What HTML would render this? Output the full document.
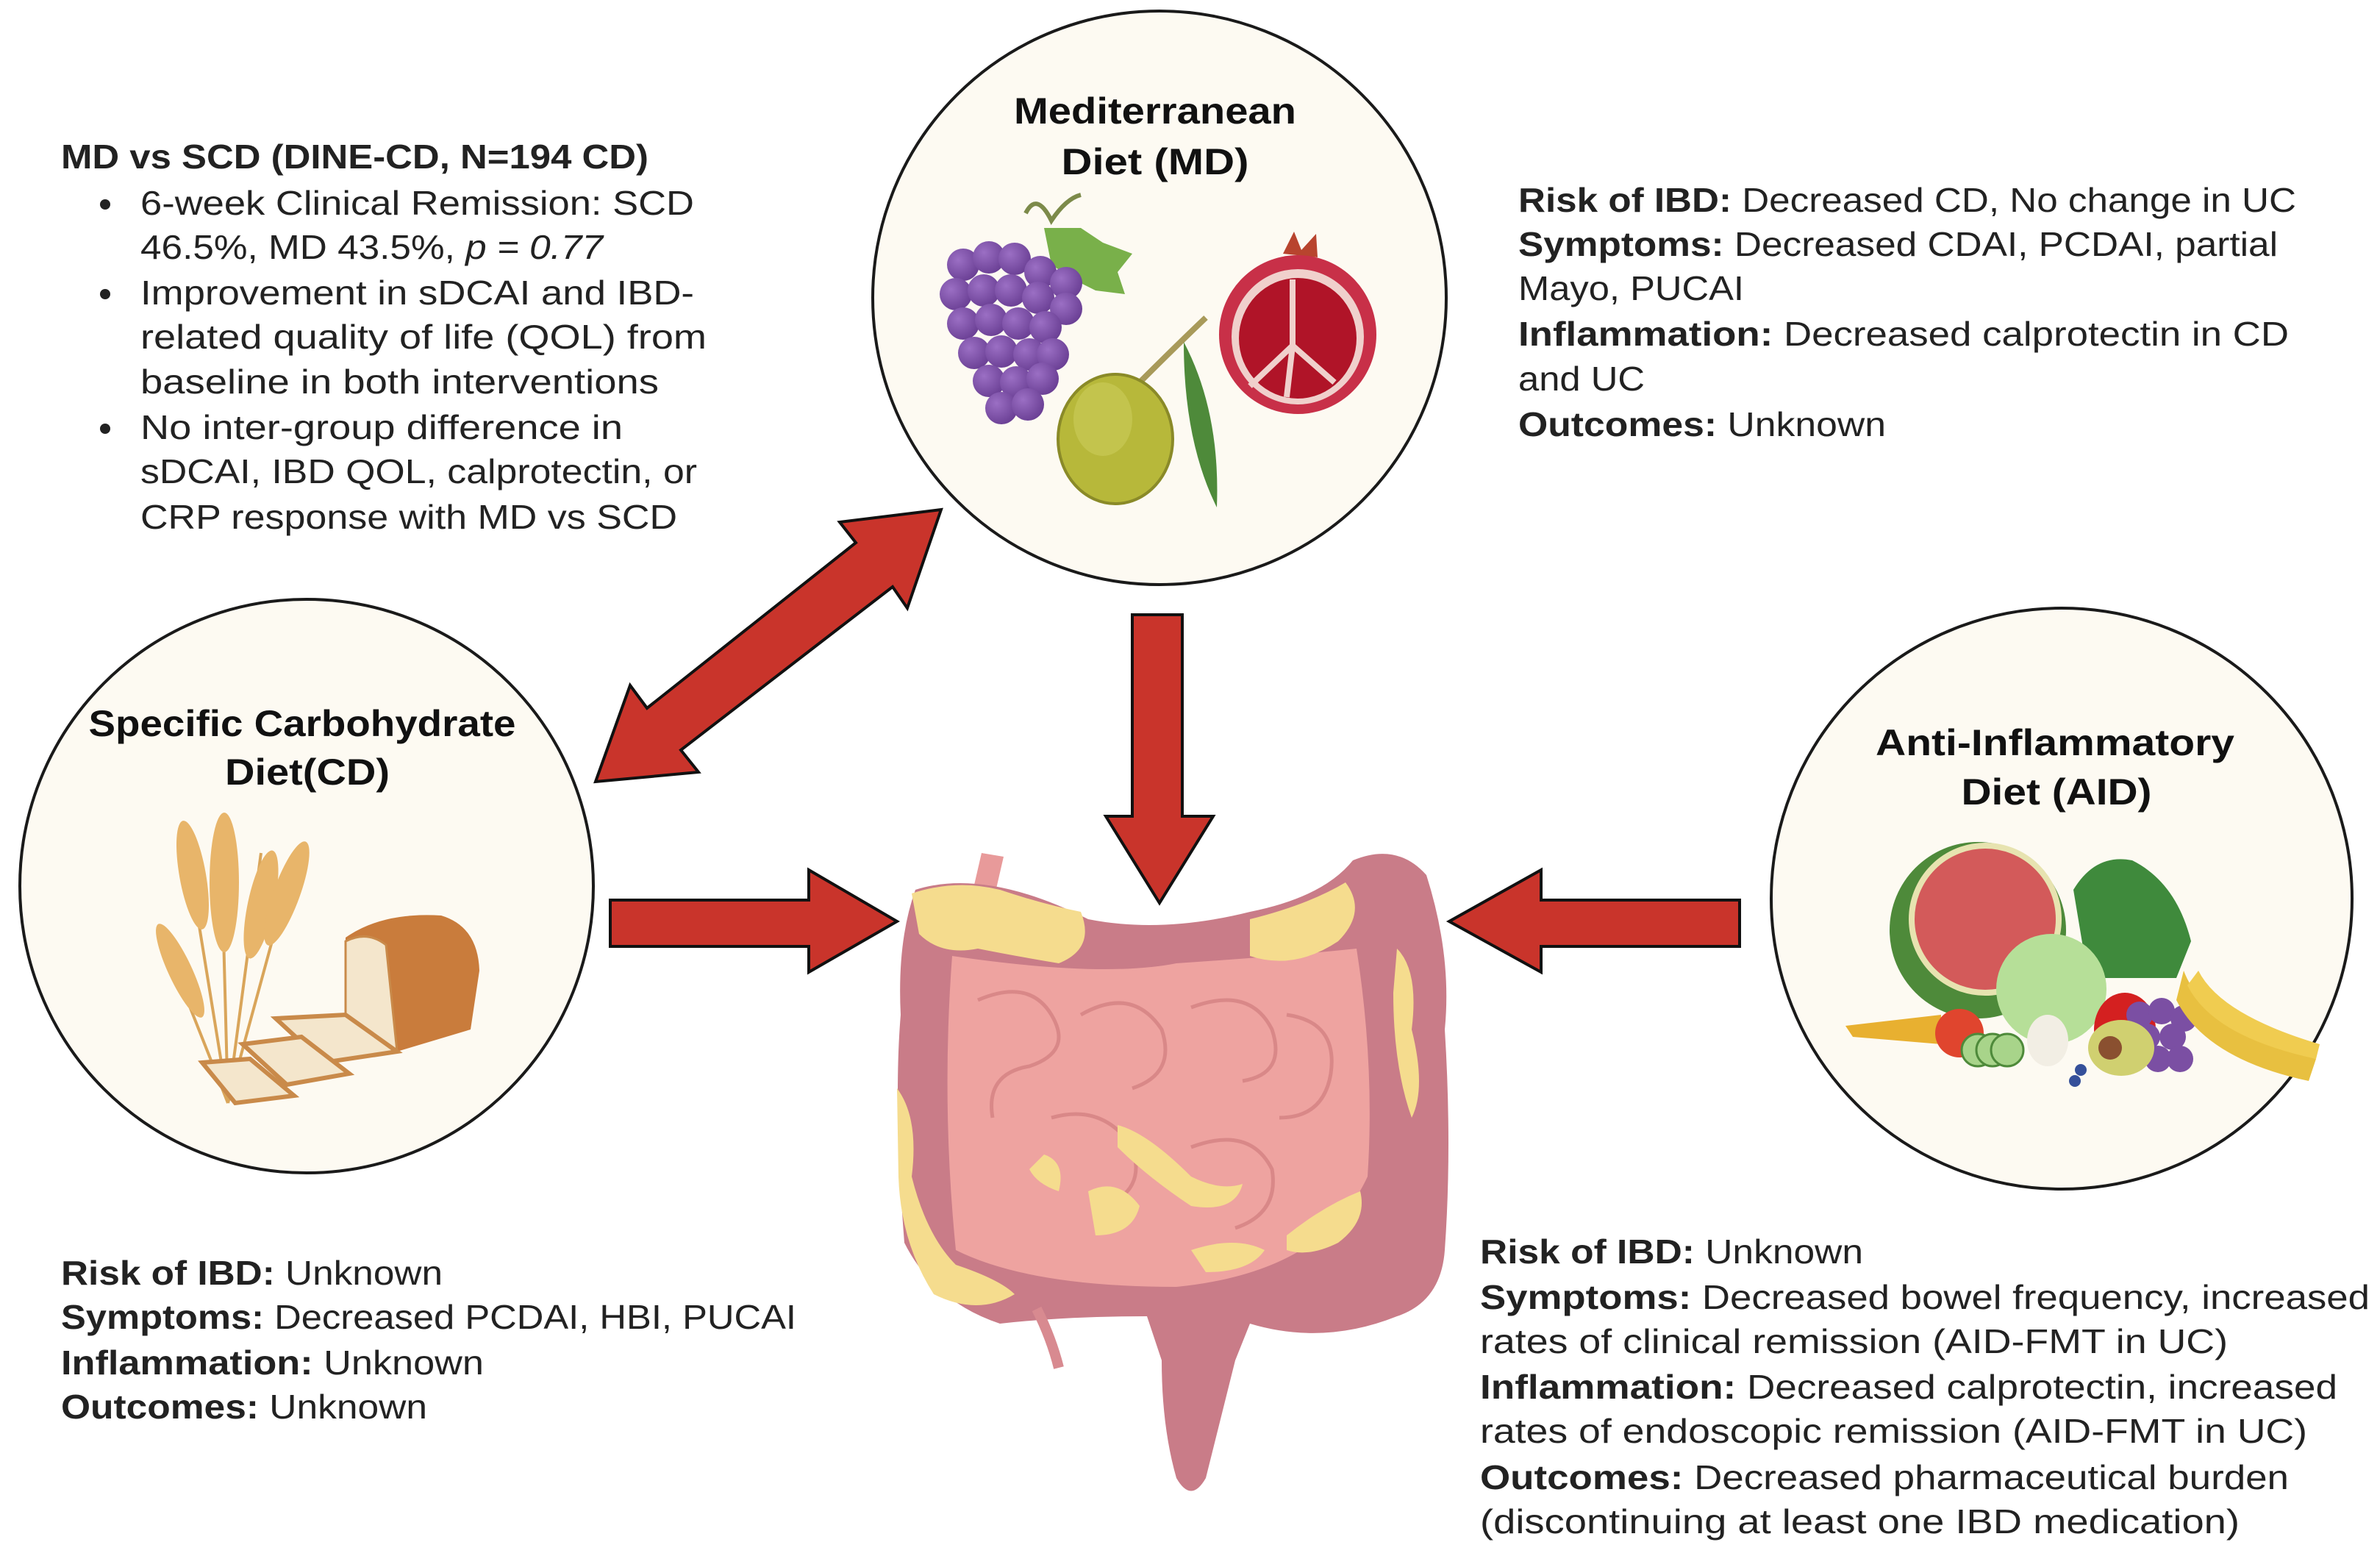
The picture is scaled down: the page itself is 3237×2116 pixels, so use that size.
<!DOCTYPE html>
<html><head><meta charset="utf-8"><style>
html,body{margin:0;padding:0;background:#fff;}
svg{display:block;}
text{font-family:"Liberation Sans",sans-serif;fill:#222;}
.t{font-size:46px;}
.b{font-weight:bold;}
.h{font-size:50px;font-weight:bold;fill:#111;}
</style></head><body>
<svg width="3237" height="2116" viewBox="0 0 3237 2116" xmlns="http://www.w3.org/2000/svg">
<defs>
<radialGradient id="gr" cx="0.35" cy="0.35" r="0.7"><stop offset="0" stop-color="#9b6fc4"/><stop offset="1" stop-color="#6a3f94"/></radialGradient>
</defs>
<!-- circles -->
<circle cx="1577" cy="405" r="390" fill="#fdfaf2" stroke="#1a1a1a" stroke-width="4"/>
<circle cx="417" cy="1205" r="390" fill="#fdfaf2" stroke="#1a1a1a" stroke-width="4"/>
<circle cx="2804" cy="1222" r="395" fill="#fdfaf2" stroke="#1a1a1a" stroke-width="4"/>

<!-- MD foods -->
<path d="M1395 290 Q1410 260 1430 300 Q1450 270 1470 265" fill="none" stroke="#7c8a4a" stroke-width="6"/>
<path d="M1420 310 L1470 310 L1500 330 L1540 345 L1520 370 L1530 400 L1490 395 L1460 380 L1430 360Z" fill="#79b04a"/>
<g fill="url(#gr)">
<circle cx="1310" cy="360" r="22"/><circle cx="1345" cy="350" r="22"/><circle cx="1380" cy="352" r="22"/><circle cx="1415" cy="370" r="22"/><circle cx="1450" cy="385" r="22"/>
<circle cx="1300" cy="400" r="22"/><circle cx="1338" cy="395" r="22"/><circle cx="1375" cy="395" r="22"/><circle cx="1412" cy="405" r="22"/><circle cx="1450" cy="420" r="22"/>
<circle cx="1310" cy="440" r="22"/><circle cx="1348" cy="435" r="22"/><circle cx="1385" cy="440" r="22"/><circle cx="1422" cy="445" r="22"/>
<circle cx="1325" cy="480" r="22"/><circle cx="1362" cy="478" r="22"/><circle cx="1400" cy="482" r="22"/><circle cx="1432" cy="482" r="22"/>
<circle cx="1345" cy="518" r="22"/><circle cx="1382" cy="520" r="22"/><circle cx="1418" cy="515" r="22"/>
<circle cx="1362" cy="555" r="22"/><circle cx="1398" cy="550" r="22"/>
</g>
<path d="M1640 432 Q1600 470 1545 525" fill="none" stroke="#a89a5a" stroke-width="8"/>
<ellipse cx="1517" cy="597" rx="78" ry="88" fill="#b7b83a" stroke="#8a8a28" stroke-width="4"/>
<ellipse cx="1500" cy="570" rx="40" ry="50" fill="#c8c955" opacity="0.7"/>
<path d="M1610 465 Q1660 560 1655 690 Q1610 600 1610 465Z" fill="#4e8a3a"/>
<path d="M1745 345 L1760 315 L1770 340 L1790 318 L1792 350Z" fill="#b8442e"/>
<ellipse cx="1765" cy="455" rx="107" ry="108" fill="#c83048"/>
<ellipse cx="1765" cy="458" rx="90" ry="92" fill="#f0d0cc"/>
<ellipse cx="1765" cy="460" rx="80" ry="82" fill="#b01428"/>
<path d="M1758 380 L1758 470 L1700 525 M1758 470 L1750 540 M1758 470 L1815 520" stroke="#f0d0cc" stroke-width="8" fill="none"/>

<!-- SCD foods -->
<g stroke="#d9a55a" stroke-width="4" fill="none">
<path d="M310 1500 L250 1130"/><path d="M310 1500 L300 1120"/><path d="M310 1500 L355 1160"/><path d="M310 1500 L400 1170"/><path d="M310 1500 L215 1260"/>
</g>
<g fill="#e8b56a">
<ellipse cx="262" cy="1190" rx="18" ry="75" transform="rotate(-10 262 1190)"/>
<ellipse cx="305" cy="1200" rx="20" ry="95" transform="rotate(0 305 1200)"/>
<ellipse cx="355" cy="1230" rx="18" ry="75" transform="rotate(12 355 1230)"/>
<ellipse cx="390" cy="1215" rx="18" ry="75" transform="rotate(20 390 1215)"/>
<ellipse cx="245" cy="1320" rx="16" ry="70" transform="rotate(-25 245 1320)"/>
</g>
<path d="M470 1275 Q520 1240 600 1245 Q650 1260 652 1320 L640 1400 L540 1430 L470 1400Z" fill="#c97c3c"/>
<path d="M470 1280 Q500 1265 525 1285 L540 1430 L470 1400Z" fill="#f4e6cc" stroke="#c98a4a" stroke-width="3"/>
<path d="M375 1385 L470 1380 L540 1430 L440 1445Z" fill="#f4e6cc" stroke="#c98a4a" stroke-width="6"/>
<path d="M330 1420 L410 1410 L475 1460 L390 1475Z" fill="#f4e6cc" stroke="#c98a4a" stroke-width="6"/>
<path d="M275 1445 L340 1440 L400 1490 L320 1500Z" fill="#f4e6cc" stroke="#c98a4a" stroke-width="6"/>

<!-- AID foods -->
<ellipse cx="2690" cy="1265" rx="120" ry="120" fill="#4e8a3a"/>
<ellipse cx="2700" cy="1250" rx="100" ry="100" fill="#d35a5a" stroke="#e7e3b0" stroke-width="8"/>
<path d="M2820 1210 Q2850 1160 2900 1170 Q2960 1200 2980 1280 L2960 1330 L2840 1330Z" fill="#3f8a3c"/>
<ellipse cx="2790" cy="1345" rx="75" ry="75" fill="#b6df98"/>
<ellipse cx="2890" cy="1400" rx="42" ry="50" fill="#d42020"/>
<g fill="#7b4fa3"><circle cx="2910" cy="1380" r="18"/><circle cx="2940" cy="1375" r="18"/><circle cx="2970" cy="1385" r="18"/><circle cx="2920" cy="1410" r="18"/><circle cx="2955" cy="1410" r="18"/><circle cx="2935" cy="1440" r="18"/><circle cx="2965" cy="1440" r="18"/></g>
<path d="M2970 1320 Q3000 1400 3150 1440 L3140 1470 Q3000 1440 2960 1360Z" fill="#e8c040"/>
<path d="M2990 1320 Q3020 1380 3155 1420 L3150 1440 Q3010 1410 2975 1340Z" fill="#f0cc50"/>
<path d="M2510 1395 L2640 1380 L2640 1420 L2520 1410Z" fill="#e8b030"/>
<circle cx="2665" cy="1405" r="33" fill="#e0452e"/>
<g fill="#a8d48a" stroke="#4e8a3a" stroke-width="3"><circle cx="2690" cy="1428" r="22"/><circle cx="2710" cy="1428" r="22"/><circle cx="2730" cy="1428" r="22"/></g>
<ellipse cx="2785" cy="1415" rx="28" ry="35" fill="#f2eee4"/>
<ellipse cx="2885" cy="1425" rx="45" ry="38" fill="#d0d070"/><circle cx="2870" cy="1425" r="16" fill="#8a5030"/>
<circle cx="2830" cy="1455" r="8" fill="#35509a"/><circle cx="2822" cy="1470" r="8" fill="#35509a"/>

<!-- intestine -->
<g>
<path d="M1335 1160 L1365 1165 L1350 1230 L1320 1225Z" fill="#e89a9a"/>
<path d="M1245 1210 Q1340 1180 1480 1250 Q1580 1270 1700 1240 Q1800 1220 1840 1170 Q1900 1145 1940 1190 Q1975 1300 1965 1400 Q1975 1560 1965 1700 Q1960 1770 1900 1790 Q1800 1830 1700 1800 L1680 1850 Q1660 1930 1640 2010 Q1620 2045 1600 2010 Q1580 1940 1580 1850 L1560 1790 Q1450 1790 1360 1800 Q1270 1770 1230 1690 Q1215 1500 1225 1380 Q1220 1280 1245 1210Z" fill="#c97c88"/>
<path d="M1295 1300 Q1500 1330 1600 1310 Q1750 1300 1845 1290 Q1870 1450 1860 1600 Q1800 1730 1600 1750 Q1400 1750 1300 1700 Q1280 1500 1295 1300Z" fill="#eea3a0"/>
<g fill="none" stroke="#d98888" stroke-width="5">
<path d="M1330 1360 Q1400 1330 1430 1380 Q1460 1430 1400 1450 Q1340 1460 1350 1520"/>
<path d="M1470 1380 Q1540 1340 1580 1400 Q1600 1460 1540 1480"/>
<path d="M1620 1370 Q1700 1340 1730 1400 Q1750 1460 1690 1470"/>
<path d="M1750 1380 Q1820 1390 1810 1460 Q1800 1520 1740 1520"/>
<path d="M1430 1520 Q1500 1500 1540 1560 Q1560 1620 1500 1640"/>
<path d="M1620 1560 Q1700 1530 1730 1590 Q1740 1650 1680 1670"/>
</g>
<g fill="#f5dc8e">
<path d="M1240 1215 Q1300 1195 1360 1210 Q1420 1230 1470 1240 Q1490 1290 1440 1310 Q1380 1300 1330 1290 Q1280 1300 1250 1270Z"/>
<path d="M1700 1250 Q1780 1230 1830 1200 Q1860 1240 1820 1280 Q1760 1320 1700 1300Z"/>
<path d="M1900 1290 Q1930 1320 1920 1400 Q1940 1480 1920 1520 Q1895 1450 1895 1350Z"/>
<path d="M1220 1480 Q1250 1520 1240 1600 Q1260 1680 1300 1720 Q1360 1740 1380 1760 Q1330 1790 1270 1760 Q1225 1690 1222 1600Z"/>
<path d="M1520 1530 Q1560 1540 1620 1600 Q1660 1620 1690 1610 Q1680 1650 1620 1640 Q1560 1600 1520 1560Z"/>
<path d="M1480 1620 Q1520 1600 1550 1640 Q1540 1680 1490 1680Z"/>
<path d="M1420 1570 Q1450 1580 1440 1620 Q1410 1610 1400 1590Z"/>
<path d="M1620 1700 Q1680 1680 1720 1700 Q1700 1730 1640 1730Z"/>
<path d="M1750 1680 Q1800 1640 1850 1620 Q1860 1660 1820 1690 Q1780 1710 1750 1700Z"/>
</g>
<path d="M1410 1780 Q1430 1820 1440 1860" stroke="#d88a90" stroke-width="14" fill="none"/>
</g>

<!-- arrows -->
<g fill="#c9342b" stroke="#111" stroke-width="4" stroke-linejoin="miter">
<polygon points="1280,693 1234,827 1214,798 926,1020 950,1050 810,1063 857,932 880,963 1164,738 1142,710"/>
<polygon points="1540,836 1608,836 1608,1110 1650,1110 1577,1228 1504,1110 1540,1110"/>
<polygon points="830,1224 1100,1224 1100,1183 1220,1253 1100,1322 1100,1287 830,1287"/>
<polygon points="2366,1224 2096,1224 2096,1183 1971,1253 2096,1322 2096,1287 2366,1287"/>
</g>

<!-- circle titles -->
<text class="h" x="1571" y="168" text-anchor="middle" textLength="384" lengthAdjust="spacingAndGlyphs">Mediterranean</text>
<text class="h" x="1571" y="237" text-anchor="middle" textLength="255" lengthAdjust="spacingAndGlyphs">Diet (MD)</text>
<text class="h" x="411" y="1001" text-anchor="middle" textLength="581" lengthAdjust="spacingAndGlyphs">Specific Carbohydrate</text>
<text class="h" x="418" y="1067" text-anchor="middle" textLength="224" lengthAdjust="spacingAndGlyphs">Diet(CD)</text>
<text class="h" x="2795" y="1027" text-anchor="middle" textLength="488" lengthAdjust="spacingAndGlyphs">Anti-Inflammatory</text>
<text class="h" x="2797" y="1094" text-anchor="middle" textLength="259" lengthAdjust="spacingAndGlyphs">Diet (AID)</text>

<!-- top-left text -->
<text class="t b" x="83" y="229" textLength="799" lengthAdjust="spacingAndGlyphs">MD vs SCD (DINE-CD, N=194 CD)</text>
<g fill="#222"><circle cx="143" cy="278" r="7"/><circle cx="143" cy="400" r="7"/><circle cx="143" cy="583" r="7"/></g>
<text class="t" x="191" y="292" textLength="753" lengthAdjust="spacingAndGlyphs">6-week Clinical Remission: SCD</text>
<text class="t" x="191" y="352" textLength="629" lengthAdjust="spacingAndGlyphs">46.5%, MD 43.5%, <tspan font-style="italic">p = 0.77</tspan></text>
<text class="t" x="191" y="414" textLength="753" lengthAdjust="spacingAndGlyphs">Improvement in sDCAI and IBD-</text>
<text class="t" x="191" y="474" textLength="770" lengthAdjust="spacingAndGlyphs">related quality of life (QOL) from</text>
<text class="t" x="191" y="535" textLength="705" lengthAdjust="spacingAndGlyphs">baseline in both interventions</text>
<text class="t" x="191" y="597" textLength="656" lengthAdjust="spacingAndGlyphs">No inter-group difference in</text>
<text class="t" x="191" y="657" textLength="757" lengthAdjust="spacingAndGlyphs">sDCAI, IBD QOL, calprotectin, or</text>
<text class="t" x="191" y="719" textLength="730" lengthAdjust="spacingAndGlyphs">CRP response with MD vs SCD</text>

<!-- MD right text -->
<text class="t" x="2065" y="288" textLength="1058" lengthAdjust="spacingAndGlyphs"><tspan class="b">Risk of IBD:</tspan> Decreased CD, No change in UC</text>
<text class="t" x="2065" y="348" textLength="1033" lengthAdjust="spacingAndGlyphs"><tspan class="b">Symptoms:</tspan> Decreased CDAI, PCDAI, partial</text>
<text class="t" x="2065" y="408" textLength="307" lengthAdjust="spacingAndGlyphs">Mayo, PUCAI</text>
<text class="t" x="2065" y="470" textLength="1048" lengthAdjust="spacingAndGlyphs"><tspan class="b">Inflammation:</tspan> Decreased calprotectin in CD</text>
<text class="t" x="2065" y="531" textLength="172" lengthAdjust="spacingAndGlyphs">and UC</text>
<text class="t" x="2065" y="593" textLength="500" lengthAdjust="spacingAndGlyphs"><tspan class="b">Outcomes:</tspan> Unknown</text>

<!-- SCD bottom text -->
<text class="t" x="83" y="1747" textLength="519" lengthAdjust="spacingAndGlyphs"><tspan class="b">Risk of IBD:</tspan> Unknown</text>
<text class="t" x="83" y="1807" textLength="1000" lengthAdjust="spacingAndGlyphs"><tspan class="b">Symptoms:</tspan> Decreased PCDAI, HBI, PUCAI</text>
<text class="t" x="83" y="1869" textLength="575" lengthAdjust="spacingAndGlyphs"><tspan class="b">Inflammation:</tspan> Unknown</text>
<text class="t" x="83" y="1929" textLength="498" lengthAdjust="spacingAndGlyphs"><tspan class="b">Outcomes:</tspan> Unknown</text>

<!-- AID text -->
<text class="t" x="2013" y="1718" textLength="521" lengthAdjust="spacingAndGlyphs"><tspan class="b">Risk of IBD:</tspan> Unknown</text>
<text class="t" x="2013" y="1780" textLength="1210" lengthAdjust="spacingAndGlyphs"><tspan class="b">Symptoms:</tspan> Decreased bowel frequency, increased</text>
<text class="t" x="2013" y="1840" textLength="1017" lengthAdjust="spacingAndGlyphs">rates of clinical remission (AID-FMT in UC)</text>
<text class="t" x="2013" y="1902" textLength="1166" lengthAdjust="spacingAndGlyphs"><tspan class="b">Inflammation:</tspan> Decreased calprotectin, increased</text>
<text class="t" x="2013" y="1962" textLength="1125" lengthAdjust="spacingAndGlyphs">rates of endoscopic remission (AID-FMT in UC)</text>
<text class="t" x="2013" y="2025" textLength="1100" lengthAdjust="spacingAndGlyphs"><tspan class="b">Outcomes:</tspan> Decreased pharmaceutical burden</text>
<text class="t" x="2013" y="2085" textLength="1033" lengthAdjust="spacingAndGlyphs">(discontinuing at least one IBD medication)</text>
</svg>
</body></html>
